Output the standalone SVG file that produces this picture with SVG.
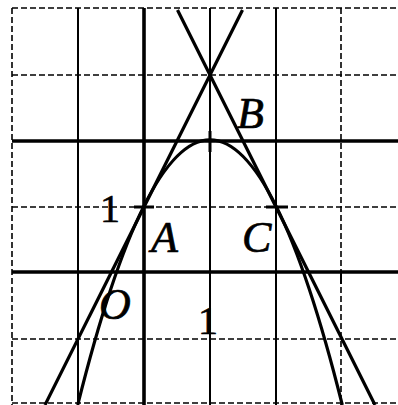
<svg xmlns="http://www.w3.org/2000/svg" width="398" height="405" viewBox="0 0 398 405">
<style>
.dash{stroke:#000;stroke-width:1.6;stroke-dasharray:6 3;fill:none}
.thin{stroke:#000;stroke-width:2;fill:none}
.thick{stroke:#000;stroke-width:3.6;fill:none}
.curve{stroke:#000;stroke-width:3.2;fill:none}
.tick{stroke:#000;stroke-width:3;fill:none}
.lbl{font-family:"Liberation Serif","Times New Roman",serif;font-style:italic;font-size:44px;fill:#000;stroke:#000;stroke-width:0.7}
.num{font-family:"Liberation Serif","Times New Roman",serif;font-size:40px;fill:#000;stroke:#000;stroke-width:0.6}
</style>
<rect width="398" height="405" fill="#fff"/>
<g id="grid">
<line class="dash" x1="12" y1="8" x2="12" y2="405"/>
<line class="thin" x1="78" y1="8" x2="78" y2="405"/>
<line class="thin" x1="210" y1="8" x2="210" y2="405"/>
<line class="thin" x1="276" y1="8" x2="276" y2="405"/>
<line class="dash" x1="341" y1="8" x2="341" y2="405"/>
<line class="dash" x1="12" y1="8" x2="398" y2="8"/>
<line class="dash" x1="12" y1="75" x2="398" y2="75"/>
<line class="dash" x1="12" y1="207" x2="398" y2="207"/>
<line class="dash" x1="12" y1="339" x2="398" y2="339"/>
<line class="dash" x1="12" y1="403" x2="398" y2="403"/>
</g>
<g id="axes">
<line class="thick" x1="144" y1="8" x2="144" y2="405"/>
<line class="thick" x1="12" y1="141" x2="398" y2="141"/>
<line class="thick" x1="12" y1="272" x2="398" y2="272"/>
<line class="tick" x1="210" y1="131" x2="210" y2="152"/>
<line class="tick" x1="134" y1="207" x2="154" y2="207"/>
<line class="tick" x1="266" y1="207" x2="288" y2="207"/>
<line class="thin" x1="78" y1="272" x2="78" y2="284"/>
<line class="thin" x1="341" y1="272" x2="341" y2="284"/>
</g>
<g id="connectors">
<path id="parabola" class="curve" d="M77.7,405 Q210,-125.4 342.3,405"/>
<line id="tangentA" class="curve" x1="45" y1="405" x2="242.5" y2="10"/>
<line id="tangentC" class="curve" x1="177.5" y1="10" x2="375" y2="405"/>
</g>
<g id="labels">
<text class="lbl" x="237" y="128">B</text>
<text class="lbl" x="151" y="252">A</text>
<text class="lbl" x="242" y="252">C</text>
<text class="lbl" x="99" y="319">O</text>
<text class="num" x="110" y="222" text-anchor="middle">1</text>
<text class="num" x="208" y="334" text-anchor="middle">1</text>
</g>
</svg>
